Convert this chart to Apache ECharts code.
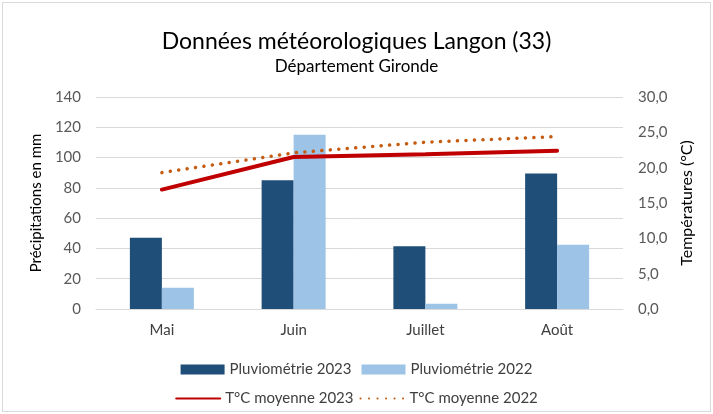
<!DOCTYPE html>
<html>
<head>
<meta charset="utf-8">
<script src="https://cdn.jsdelivr.net/npm/echarts@6/dist/echarts.min.js"></script>
<style>
    html, body { margin: 0; padding: 0; background: #ffffff; }
    #frame { position: absolute; left: 2px; top: 2px; width: 707px; height: 408px; border: 1px solid #d9d9d9; }
    #main { position: absolute; left: 0; top: 0; width: 713px; height: 414px; }
</style>
</head>
<body>
<div id="frame"></div>
<div id="main"></div>
<script>
    // données
    var categories = ['Mai', 'Juin', 'Juillet', 'Août'];
    var pluvio2023 = [47, 85, 41.5, 89.5];
    var pluvio2022 = [14, 115, 3.5, 42.5];
    var temp2023 = [16.9, 21.5, 21.9, 22.4];
    var temp2022 = [19.3, 22.1, 23.6, 24.4];

    var font = 'Lato';
    var myChart = echarts.init(document.getElementById('main'));

    var option = {
        // titre
        title: {
            text: 'Données météorologiques Langon (33)',
            subtext: 'Département Gironde',
            left: 'center',
            top: 25,
            itemGap: 5,
            textStyle: { fontFamily: font, fontSize: 23, fontWeight: 'normal', color: '#000000' },
            subtextStyle: { fontFamily: font, fontSize: 17, color: '#000000' }
        },
        // légende sur deux lignes
        legend: [{
            data: ['Pluviométrie 2023', 'Pluviométrie 2022'],
            left: 'center',
            top: 357,
            itemWidth: 44,
            itemHeight: 10,
            itemGap: 10,
            icon: 'rect',
            textStyle: { fontFamily: font, fontSize: 15, color: '#404040' }
        }, {
            data: ['T°C moyenne 2023', 'T°C moyenne 2022'],
            left: 'center',
            top: 386,
            itemWidth: 44,
            itemHeight: 10,
            itemGap: 6,
            itemStyle: { opacity: 0 },
            textStyle: { fontFamily: font, fontSize: 15, color: '#404040' }
        }],
        grid: {
            left: 96,
            right: 90,
            top: 97,
            bottom: 105
        },
        xAxis: {
            type: 'category',
            data: categories,
            axisTick: { show: false },
            axisLine: { lineStyle: { color: '#d9d9d9', width: 1 } },
            axisLabel: { fontFamily: font, fontSize: 15, color: '#404040', margin: 14 }
        },
        yAxis: [{
            type: 'value',
            name: 'Précipitations en mm',
            nameLocation: 'middle',
            nameGap: 43,
            nameTextStyle: { fontFamily: font, fontSize: 15, color: '#000000' },
            min: 0,
            max: 140,
            interval: 20,
            axisLine: { show: false },
            axisTick: { show: false },
            splitLine: { lineStyle: { color: '#d9d9d9', width: 1 } },
            axisLabel: { fontFamily: font, fontSize: 15, color: '#595959', margin: 15 }
        }, {
            type: 'value',
            name: 'Températures (°C)',
            nameLocation: 'middle',
            nameGap: 54,
            nameRotate: 90,
            nameTextStyle: { fontFamily: font, fontSize: 16, color: '#000000' },
            min: 0,
            max: 30,
            interval: 5,
            axisLine: { show: false },
            axisTick: { show: false },
            splitLine: { show: false },
            axisLabel: {
                fontFamily: font, fontSize: 15, color: '#595959', margin: 15,
                formatter: function (v) {
                    return v.toFixed(1).replace('.', ',');
                }
            }
        }],
        series: [{
            name: 'Pluviométrie 2023',
            type: 'bar',
            data: pluvio2023,
            barWidth: 32,
            barGap: '0%',
            itemStyle: { color: '#1f4e79' }
        }, {
            name: 'Pluviométrie 2022',
            type: 'bar',
            data: pluvio2022,
            barWidth: 32,
            barGap: '0%',
            itemStyle: { color: '#9dc3e6' }
        }, {
            name: 'T°C moyenne 2023',
            type: 'line',
            yAxisIndex: 1,
            data: temp2023,
            symbol: 'none',
            itemStyle: { color: '#c00000' },
            lineStyle: { color: '#c00000', width: 4, cap: 'round' }
        }, {
            name: 'T°C moyenne 2022',
            type: 'line',
            yAxisIndex: 1,
            data: temp2022,
            symbol: 'none',
            itemStyle: { color: '#c55a11' },
            lineStyle: { color: '#c55a11', width: 3.5, type: [0.1, 8.4], cap: 'round' }
        }]
    };
    myChart.setOption(option);
</script>
</body>
</html>
